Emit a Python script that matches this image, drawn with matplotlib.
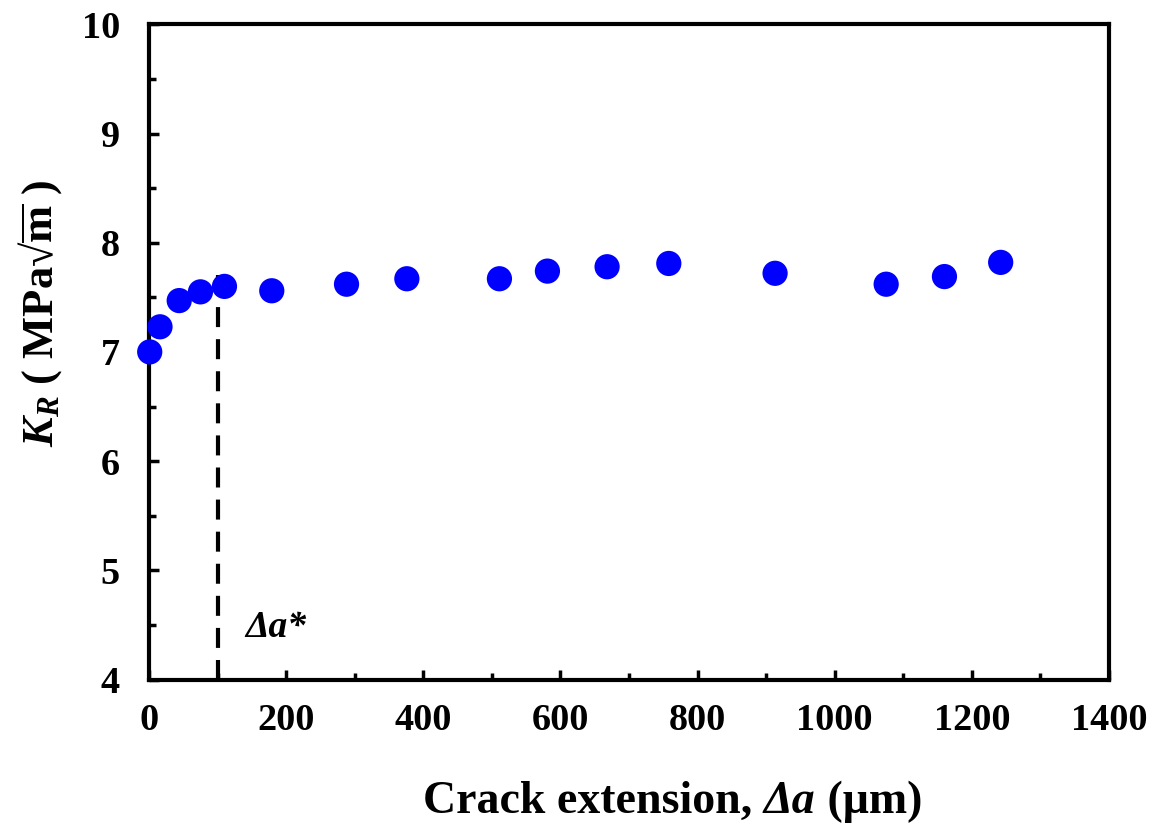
import matplotlib
matplotlib.use("Agg")
import matplotlib.pyplot as plt
from matplotlib.ticker import MultipleLocator

plt.rcParams['font.family'] = ['Liberation Serif', 'DejaVu Serif']
plt.rcParams['font.weight'] = 'bold'
plt.rcParams['axes.labelweight'] = 'bold'
plt.rcParams['mathtext.fontset'] = 'custom'
plt.rcParams['mathtext.rm'] = 'Liberation Serif:bold'
plt.rcParams['mathtext.bf'] = 'Liberation Serif:bold'
plt.rcParams['mathtext.it'] = 'Liberation Serif:bold:italic'

# Data
crack_ext = [1, 16, 44, 75, 110, 179, 288, 376, 511, 581, 668, 758, 913, 1075, 1160, 1242]
k_r = [7.00, 7.23, 7.47, 7.55, 7.60, 7.56, 7.62, 7.67, 7.67, 7.74, 7.78, 7.81, 7.72, 7.62, 7.69, 7.82]
delta_a_star = 100
delta_a_star_top = 7.70
x_ticks = [0, 200, 400, 600, 800, 1000, 1200, 1400]
y_ticks = [4, 5, 6, 7, 8, 9, 10]

W, H = 1158, 836
fig = plt.figure(figsize=(W / 100, H / 100), dpi=100)
ax = fig.add_axes([0.1287, 0.1872, 0.8290, 0.7837])

ax.plot([delta_a_star, delta_a_star], [4, delta_a_star_top], color='black',
        linewidth=3, linestyle=(0, (4.8, 2.9)), zorder=2)
ax.scatter(crack_ext, k_r, s=330, color='#0000FF', edgecolors='none', zorder=3, clip_on=False)

ax.set_xlim(0, 1400)
ax.set_ylim(4, 10)
ax.set_xticks(x_ticks)
ax.set_yticks(y_ticks)
ax.xaxis.set_minor_locator(MultipleLocator(100))
ax.yaxis.set_minor_locator(MultipleLocator(0.5))

for s in ax.spines.values():
    s.set_linewidth(3)
ax.tick_params(which='both', direction='in', width=2.5, top=False, right=False)
ax.tick_params(which='major', length=7)
ax.tick_params(which='minor', length=5)
ax.tick_params(axis='x', which='major', labelsize=27.5, pad=17)
ax.tick_params(axis='y', which='major', labelsize=27.5, pad=21)
for lab in ax.get_xticklabels() + ax.get_yticklabels():
    lab.set_fontweight('bold')

# y label
ax.set_ylabel(r'$K_R$ ( MPa√$\overline{\mathrm{m}}$ )', fontsize=32, fontweight='bold')
ax.yaxis.set_label_coords(-0.1135, 0.559)
ax.yaxis.label.set_va('center')

# x label built from pieces (upright / italic / upright)
renderer = fig.canvas.get_renderer()
parts = [('Crack extension, ', 'normal'), ('Δa', 'italic'), (' (μm)', 'normal')]
baseline_y = (H - 813) / H
pieces = []
for txt, st in parts:
    t = fig.text(0, baseline_y, txt, fontsize=33, fontweight='bold', style=st,
                 ha='left', va='baseline')
    pieces.append(t)
widths = [t.get_window_extent(renderer).width for t in pieces]
x_px = 672.5 - sum(widths) / 2
for t, w in zip(pieces, widths):
    t.set_x(x_px / W)
    x_px += w

ax.text(140, 4.48, 'Δa*', fontsize=27, fontweight='bold', style='italic',
        ha='left', va='center')

fig.savefig('out.png', dpi=100)
